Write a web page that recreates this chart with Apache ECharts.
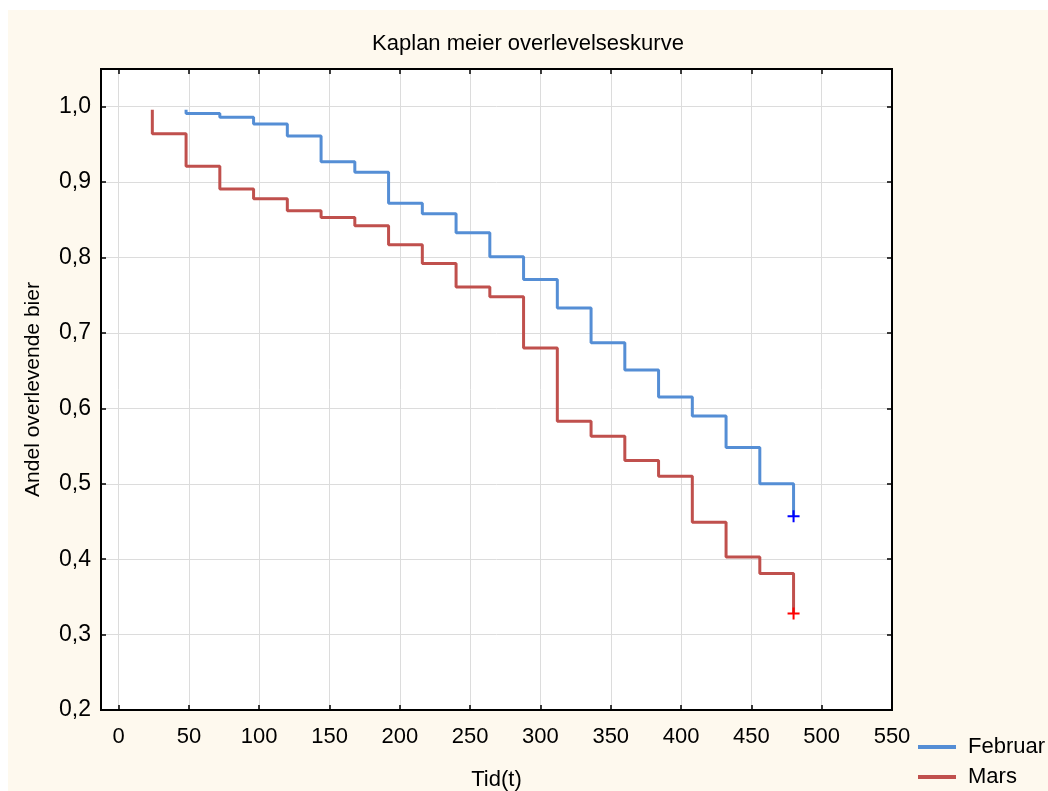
<!DOCTYPE html>
<html>
<head>
<meta charset="utf-8">
<script src="https://cdn.jsdelivr.net/npm/echarts@6/dist/echarts.min.js"></script>
<style>
  html, body { margin: 0; padding: 0; background: #ffffff; overflow: hidden; }
  #chart { position: absolute; left: 8px; top: 10px; width: 1040px; height: 781px; }
</style>
</head>
<body>
<div id="chart"></div>
<script>
// ---- data ----
const titleText = 'Kaplan meier overlevelseskurve';
const xName = 'Tid(t)';
const yName = 'Andel overlevende bier';
const seriesNames = ['Februar', 'Mars'];

const xTicks = [0, 50, 100, 150, 200, 250, 300, 350, 400, 450, 500, 550];
const yTicks = [0.2, 0.3, 0.4, 0.5, 0.6, 0.7, 0.8, 0.9, 1.0];

const timesFeb = [48, 48, 72, 96, 120, 144, 168, 192, 216, 240, 264, 288, 312, 336, 360, 384, 408, 432, 456, 480];
const survFeb  = [0.996, 0.991, 0.986, 0.977, 0.961, 0.927, 0.913, 0.872, 0.858, 0.833, 0.801, 0.771, 0.733, 0.687, 0.651, 0.615, 0.590, 0.548, 0.500, 0.457];

const timesMars = [24, 24, 48, 72, 96, 120, 144, 168, 192, 216, 240, 264, 288, 312, 336, 360, 384, 408, 432, 456, 480];
const survMars  = [0.996, 0.964, 0.921, 0.891, 0.878, 0.862, 0.853, 0.842, 0.817, 0.792, 0.761, 0.748, 0.680, 0.583, 0.563, 0.531, 0.510, 0.449, 0.403, 0.381, 0.328];

const censorFeb  = [480, 0.457];
const censorMars = [480, 0.328];

// ---- chart ----
const FONT = 'Liberation Sans, Arial, sans-serif';
const zip = (xs, ys) => xs.map((x, i) => [x, ys[i]]);
const plusPath = 'path://M0,5L12,5L12,7L0,7Z M5,0L7,0L7,12L5,12Z';

const chart = echarts.init(document.getElementById('chart'), null, { renderer: 'canvas' });

const tickStyle = { show: true, inside: true, length: 5, lineStyle: { color: '#000', width: 1.5 } };
const axisLineStyle = { show: true, onZero: false, lineStyle: { color: '#000', width: 2 } };

chart.setOption({
  animation: false,
  backgroundColor: '#fef9ee',
  title: {
    text: titleText,
    left: 'center',
    top: 23,
    padding: [0, 0, 0, 24],
    textStyle: { fontFamily: FONT, fontSize: 22, fontWeight: 'normal', color: '#000' }
  },
  legend: {
    orient: 'vertical',
    left: 910,
    top: 726,
    padding: 0,
    itemGap: 8,
    itemWidth: 38,
    itemHeight: 4,
    icon: 'rect',
    data: seriesNames,
    textStyle: { fontFamily: FONT, fontSize: 22, color: '#000', lineHeight: 21, padding: [0, 0, 0, 7] }
  },
  grid: {
    left: 93, top: 59, width: 791, height: 641,
    outerBoundsMode: 'none',
    containLabel: false,
    show: true, backgroundColor: '#ffffff', borderColor: '#000', borderWidth: 2
  },
  xAxis: [
    {
      type: 'value', min: -12.5, max: 550, position: 'bottom',
      name: xName, nameLocation: 'middle', nameGap: 59,
      nameTextStyle: { fontFamily: FONT, fontSize: 22, color: '#000' },
      axisLine: axisLineStyle,
      axisTick: Object.assign({ customValues: xTicks }, tickStyle),
      axisLabel: { customValues: xTicks, margin: 16, fontFamily: FONT, fontSize: 22, color: '#000' },
      splitLine: { show: true, lineStyle: { color: '#dcdcdc', width: 1 } }
    },
    {
      type: 'value', min: -12.5, max: 550, position: 'top',
      axisLine: axisLineStyle,
      axisTick: Object.assign({ customValues: xTicks }, tickStyle),
      axisLabel: { show: false },
      splitLine: { show: false }
    }
  ],
  yAxis: [
    {
      type: 'value', min: 0.2, max: 1.05, position: 'left',
      name: yName, nameLocation: 'middle', nameGap: 57,
      nameTextStyle: { fontFamily: FONT, fontSize: 21, color: '#000' },
      axisLine: axisLineStyle,
      axisTick: Object.assign({ customValues: yTicks }, tickStyle),
      axisLabel: {
        customValues: yTicks, margin: 10, fontFamily: FONT, fontSize: 23, color: '#000',
        formatter: v => v.toFixed(1).replace('.', ',')
      },
      splitLine: { show: true, lineStyle: { color: '#dcdcdc', width: 1 } }
    },
    {
      type: 'value', min: 0.2, max: 1.05, position: 'right',
      axisLine: axisLineStyle,
      axisTick: Object.assign({ customValues: yTicks }, tickStyle),
      axisLabel: { show: false },
      splitLine: { show: false }
    }
  ],
  series: [
    {
      name: seriesNames[0], type: 'line', step: 'end', showSymbol: false, symbol: 'none',
      data: zip(timesFeb, survFeb),
      color: '#558ed5',
      lineStyle: { color: '#558ed5', width: 3 },
      itemStyle: { color: '#558ed5' },
      z: 3
    },
    {
      name: seriesNames[1], type: 'line', step: 'end', showSymbol: false, symbol: 'none',
      data: zip(timesMars, survMars),
      color: '#c0504d',
      lineStyle: { color: '#c0504d', width: 3 },
      itemStyle: { color: '#c0504d' },
      z: 3
    },
    {
      name: 'censFeb', type: 'scatter', symbol: plusPath, symbolSize: 12,
      data: [censorFeb], itemStyle: { color: '#0000ff', opacity: 1 }, z: 5, silent: true
    },
    {
      name: 'censMars', type: 'scatter', symbol: plusPath, symbolSize: 12,
      data: [censorMars], itemStyle: { color: '#ff0000', opacity: 1 }, z: 5, silent: true
    }
  ]
});
</script>
</body>
</html>
